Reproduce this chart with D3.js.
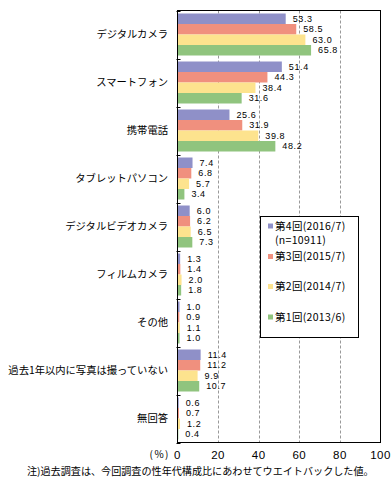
<!DOCTYPE html>
<html><head><meta charset="utf-8">
<script src="https://cdn.jsdelivr.net/npm/d3@7"></script>
<style>
body{margin:0;background:#fff;}
svg{display:block;font-family:"Noto Sans CJK JP","Noto Sans",sans-serif;}
</style></head>
<body>
<svg id="c" width="392" height="487"></svg>
<script>
const categories = ["デジタルカメラ","スマートフォン","携帯電話","タブレットパソコン","デジタルビデオカメラ","フィルムカメラ","その他","過去1年以内に写真は撮っていない","無回答"];
const seriesNames = ["第4回(2016/7)","第3回(2015/7)","第2回(2014/7)","第1回(2013/6)"];
const s2016 = [53.3,51.4,25.6,7.4,6.0,1.3,1.0,11.4,0.6];
const s2015 = [58.5,44.3,31.9,6.8,6.2,1.4,0.9,11.2,0.7];
const s2014 = [63.0,38.4,39.8,5.7,6.5,2.0,1.1,9.9,1.2];
const s2013 = [65.8,31.6,48.2,3.4,7.3,1.8,1.0,10.7,0.4];
const seriesValues = [s2016,s2015,s2014,s2013];
const colors = ["#8f90c8","#f0907e","#fde38e","#90c47e"];
const xTicks = [0,20,40,60,80,100];
const note = "注)過去調査は、今回調査の性年代構成比にあわせてウエイトバックした値。";

const svg = d3.select("#c");
const L=177.5, R=380.5, T=10.5, B=442.5;
const x = d3.scaleLinear().domain([0,100]).range([L,R]);
const y = d3.scaleBand().domain(categories).range([T,B]).paddingInner(0.125).paddingOuter(0.0625);
const ys = d3.scaleBand().domain(d3.range(4)).range([0,y.bandwidth()]);

// grid lines
svg.append("g").selectAll("line").data([20,40,60,80]).join("line")
  .attr("x1",d=>Math.round(x(d))+0.5).attr("x2",d=>Math.round(x(d))+0.5)
  .attr("y1",T).attr("y2",B)
  .attr("stroke","#999").attr("stroke-dasharray","3,2");

// bars
categories.forEach((c,i)=>{
  const g = svg.append("g");
  seriesValues.forEach((vals,s)=>{
    g.append("rect").attr("x",x(0)).attr("y",y(c)+ys(s))
      .attr("width",x(vals[i])-x(0)).attr("height",ys.bandwidth())
      .attr("fill",colors[s]);
    g.append("text").attr("x",x(vals[i])+7).attr("y",y(c)+ys(s)+ys.bandwidth()/2)
      .attr("dy","0.36em").attr("font-size",9).attr("letter-spacing",0.6)
      .attr("font-family","'Liberation Sans',Arial,sans-serif").attr("fill","#000")
      .text(vals[i].toFixed(1));
  });
});

// frame
svg.append("rect").attr("x",L).attr("y",T).attr("width",R-L).attr("height",B-T)
  .attr("fill","none").attr("stroke","#000").attr("stroke-width",1);

// category ticks
const bounds = d3.range(categories.length+1).map(i=>T+i*y.step());
svg.append("g").selectAll("line").data(bounds).join("line")
  .attr("x1",L-1).attr("x2",L+3).attr("y1",d=>Math.round(d)+0.5).attr("y2",d=>Math.round(d)+0.5)
  .attr("stroke","#000");

// category labels
svg.append("g").selectAll("text").data(categories).join("text")
  .attr("x",168).attr("y",d=>y(d)+y.bandwidth()/2).attr("dy","0.35em")
  .attr("text-anchor","end").attr("font-size",10.3).text(d=>d);

// x axis labels
svg.append("g").selectAll("text").data(xTicks).join("text")
  .attr("x",d=>x(d)).attr("y",455).attr("dy","0.36em")
  .attr("font-family","'Liberation Sans',Arial,sans-serif")
  .attr("text-anchor","middle").attr("font-size",11.5).attr("letter-spacing",0.5).text(d=>d);
svg.append("text").attr("x",170).attr("y",454).attr("dy","0.35em")
  .attr("text-anchor","end").attr("font-size",10).attr("letter-spacing",1.5).text("(%)");

// note
svg.append("text").attr("x",27).attr("y",471).attr("dy","0.35em")
  .attr("font-size",10.1).text(note);

// legend
const lg = svg.append("g");
lg.append("rect").attr("x",260.5).attr("y",216.5).attr("width",98).attr("height",121)
  .attr("fill","#fff").attr("stroke","#000");
const ly = [226,256.5,286.5,317];
seriesNames.forEach((n,i)=>{
  lg.append("rect").attr("x",268).attr("y",ly[i]-2.5).attr("width",5).attr("height",5).attr("fill",colors[i]);
  lg.append("text").attr("x",275).attr("y",ly[i]).attr("dy","0.35em").attr("font-size",10.5).attr("letter-spacing",0.3).text(n);
});
lg.append("text").attr("x",275).attr("y",240).attr("dy","0.35em").attr("font-size",10.5).attr("letter-spacing",0.3).text("(n=10911)");
</script>
</body></html>
